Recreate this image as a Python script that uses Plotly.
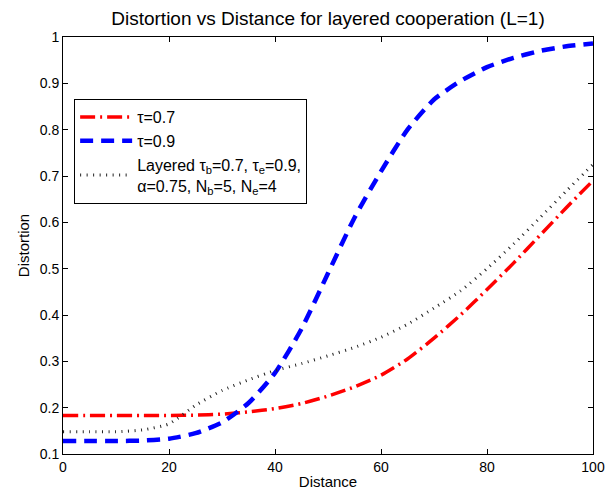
import plotly.graph_objects as go

distance = [0, 5, 10, 15, 20, 25, 30, 35, 40, 45, 50, 55, 60, 65, 70, 75, 80, 85, 90, 95, 100]
tau07 = [0.183, 0.183, 0.183, 0.183, 0.183, 0.184, 0.186, 0.191, 0.198, 0.209, 0.225, 0.245,
         0.270, 0.305, 0.350, 0.400, 0.455, 0.512, 0.572, 0.632, 0.690]
tau09 = [0.128, 0.128, 0.128, 0.129, 0.133, 0.145, 0.168, 0.210, 0.275, 0.370, 0.490, 0.610,
         0.710, 0.800, 0.865, 0.905, 0.935, 0.955, 0.970, 0.980, 0.986]
layered = [0.148, 0.148, 0.148, 0.152, 0.165, 0.205, 0.237, 0.260, 0.280, 0.295, 0.312, 0.330,
           0.352, 0.380, 0.415, 0.452, 0.500, 0.553, 0.610, 0.668, 0.725]

xticks = [0, 20, 40, 60, 80, 100]
yticks = [0.1, 0.2, 0.3, 0.4, 0.5, 0.6, 0.7, 0.8, 0.9, 1.0]
yticklabels = ["0.1", "0.2", "0.3", "0.4", "0.5", "0.6", "0.7", "0.8", "0.9", "1"]

names = ["τ=0.7", "τ=0.9",
         "Layered τ<sub>b</sub>=0.7, τ<sub>e</sub>=0.9,<br>α=0.75, N<sub>b</sub>=5, N<sub>e</sub>=4"]

fig = go.Figure()
fig.add_trace(go.Scatter(x=distance, y=tau07, mode="lines", name=names[0],
                         line=dict(color="#ff0000", width=3.5, dash="15px,5px,2px,5px", shape="spline", smoothing=0.6)))
fig.add_trace(go.Scatter(x=distance, y=tau09, mode="lines", name=names[1],
                         line=dict(color="#0000ff", width=4.5, dash="13px,8px", shape="spline", smoothing=0.6)))
fig.add_trace(go.Scatter(x=distance, y=layered, mode="lines", name=names[2],
                         line=dict(color="#222222", width=3, dash="1px,5.5px", shape="spline", smoothing=0.6)))

font = "Liberation Sans, Arial, sans-serif"
fig.update_layout(
    width=605, height=495,
    margin=dict(l=63, r=12, t=37, b=41),
    paper_bgcolor="white", plot_bgcolor="white",
    font=dict(family=font, size=13, color="black"),
    title=dict(text="Distortion vs Distance for layered cooperation (L=1)",
               xref="paper", x=0.5, xanchor="center",
               yref="container", y=0.962, yanchor="middle",
               font=dict(size=19, family=font, color="black")),
    legend=dict(x=0.021, y=0.851, xanchor="left", yanchor="top",
                bgcolor="white", bordercolor="black", borderwidth=1,
                font=dict(size=16, family=font, color="black"),
                itemwidth=52, tracegroupgap=0),
    showlegend=True,
)
fig.update_xaxes(range=[0, 100], tickvals=xticks, ticktext=[str(v) for v in xticks],
                 ticks="inside", ticklen=5, tickcolor="black", automargin=False,
                 tickfont=dict(size=14),
                 showline=True, linecolor="black", linewidth=1, mirror="ticks",
                 showgrid=False, zeroline=False,
                 title=dict(text="Distance", standoff=2, font=dict(size=15)))
fig.update_yaxes(range=[0.1, 1.0], tickvals=yticks, ticktext=yticklabels,
                 ticks="inside", ticklen=5, tickcolor="black", automargin=False,
                 tickfont=dict(size=14),
                 showline=True, linecolor="black", linewidth=1, mirror="ticks",
                 showgrid=False, zeroline=False,
                 title=dict(text="Distortion", standoff=6, font=dict(size=15)))

fig.write_html("out.html")
